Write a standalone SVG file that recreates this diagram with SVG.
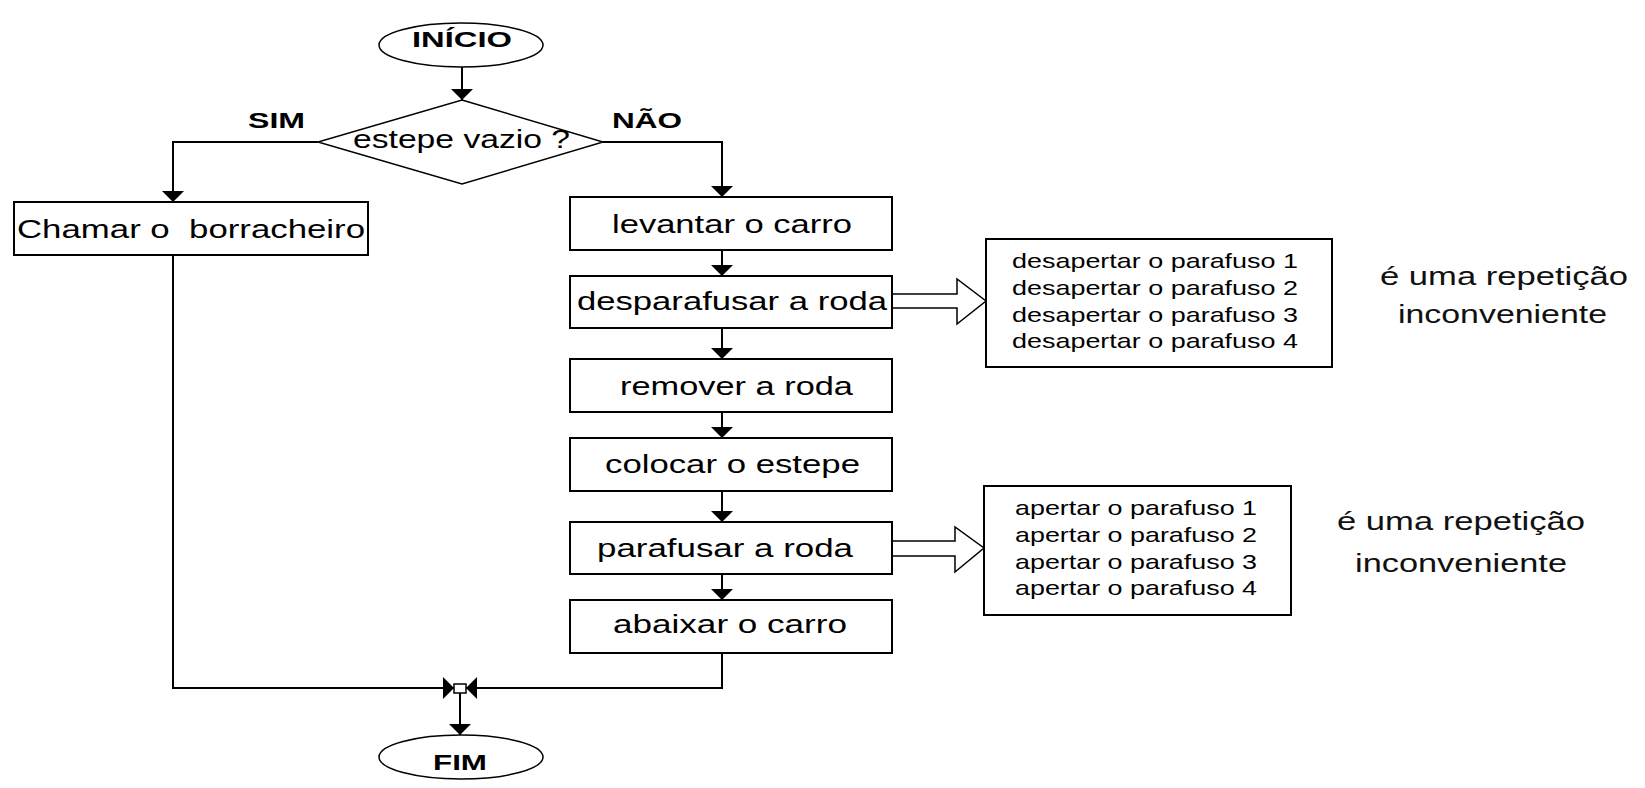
<svg xmlns="http://www.w3.org/2000/svg" width="1645" height="788" viewBox="0 0 1645 788">
<style>
  .box { fill: #ffffff; stroke: #000000; stroke-width: 2; }
  .thin { fill: #ffffff; stroke: #000000; stroke-width: 1.5; }
  .line { fill: none; stroke: #000000; stroke-width: 2; }
  .lbl { font-family: "Liberation Sans", Arial, sans-serif; font-size: 25px; fill: #000000; white-space: pre; }
  .bold { font-family: "Liberation Sans", Arial, sans-serif; font-size: 22px; font-weight: bold; fill: #000000; }
  .small { font-family: "Liberation Sans", Arial, sans-serif; font-size: 21px; fill: #000000; }
  .side { font-family: "Liberation Sans", Arial, sans-serif; font-size: 26px; fill: #111111; }
</style>
<defs>
  <marker id="arr" markerUnits="userSpaceOnUse" viewBox="0 0 11 22" refX="11" refY="11" markerWidth="11" markerHeight="22" orient="auto">
    <path d="M0,0 L11,11 L0,22 z" fill="#000000"/>
  </marker>
</defs>
<rect width="1645" height="788" fill="#ffffff"/>

<g id="connectors">
  <line class="line" x1="462" y1="67" x2="462" y2="100" marker-end="url(#arr)"/>
  <polyline class="line" points="603,142 722,142 722,197" marker-end="url(#arr)"/>
  <polyline class="line" points="318,142 173,142 173,202" marker-end="url(#arr)"/>
  <line class="line" x1="722" y1="250" x2="722" y2="276" marker-end="url(#arr)"/>
  <line class="line" x1="722" y1="328" x2="722" y2="359" marker-end="url(#arr)"/>
  <line class="line" x1="722" y1="412" x2="722" y2="438" marker-end="url(#arr)"/>
  <line class="line" x1="722" y1="491" x2="722" y2="522" marker-end="url(#arr)"/>
  <line class="line" x1="722" y1="574" x2="722" y2="600" marker-end="url(#arr)"/>
  <polyline class="line" points="722,653 722,688 466,688" marker-end="url(#arr)"/>
  <polyline class="line" points="173,255 173,688 454,688" marker-end="url(#arr)"/>
  <line class="line" x1="460" y1="693" x2="460" y2="735" marker-end="url(#arr)"/>
  <rect class="thin" x="454" y="684" width="12" height="9"/>
  <path class="thin" d="M893,294 L957,294 L957,279 L986,301 L957,324 L957,308 L893,308"/>
  <path class="thin" d="M892,541 L955,541 L955,527 L984,548 L955,572 L955,556 L892,556"/>
</g>

<g id="inicio">
  <ellipse class="thin" cx="461" cy="45" rx="82" ry="22"/>
  <text class="bold" x="412" y="47" font-size="21" textLength="100" lengthAdjust="spacingAndGlyphs">INÍCIO</text>
</g>

<g id="decisao">
  <polygon class="thin" points="462,100 603,142 462,184 318,142"/>
  <text class="lbl" x="353" y="148" textLength="217" lengthAdjust="spacingAndGlyphs">estepe vazio ?</text>
</g>

<g id="rotulo-sim">
  <text class="bold" x="248" y="128" textLength="57" lengthAdjust="spacingAndGlyphs">SIM</text>
</g>
<g id="rotulo-nao">
  <text class="bold" x="612" y="128" textLength="70" lengthAdjust="spacingAndGlyphs">NÃO</text>
</g>

<g id="chamar">
  <rect class="box" x="14" y="202" width="354" height="53"/>
  <text class="lbl" x="17" y="238" textLength="348" lengthAdjust="spacingAndGlyphs">Chamar o  borracheiro</text>
</g>

<g id="levantar">
  <rect class="box" x="570" y="197" width="322" height="53"/>
  <text class="lbl" x="612" y="233" textLength="240" lengthAdjust="spacingAndGlyphs">levantar o carro</text>
</g>

<g id="desparafusar">
  <rect class="box" x="570" y="276" width="322" height="52"/>
  <text class="lbl" x="577" y="310" textLength="310" lengthAdjust="spacingAndGlyphs">desparafusar a roda</text>
</g>

<g id="remover">
  <rect class="box" x="570" y="359" width="322" height="53"/>
  <text class="lbl" x="620" y="395" textLength="233" lengthAdjust="spacingAndGlyphs">remover a roda</text>
</g>

<g id="colocar">
  <rect class="box" x="570" y="438" width="322" height="53"/>
  <text class="lbl" x="605" y="473" textLength="255" lengthAdjust="spacingAndGlyphs">colocar o estepe</text>
</g>

<g id="parafusar">
  <rect class="box" x="570" y="522" width="322" height="52"/>
  <text class="lbl" x="597" y="557" textLength="256" lengthAdjust="spacingAndGlyphs">parafusar a roda</text>
</g>

<g id="abaixar">
  <rect class="box" x="570" y="600" width="322" height="53"/>
  <text class="lbl" x="613" y="633" textLength="234" lengthAdjust="spacingAndGlyphs">abaixar o carro</text>
</g>

<g id="fim">
  <ellipse class="thin" cx="461" cy="757" rx="82" ry="22"/>
  <text class="bold" x="433" y="770" font-size="23" textLength="54" lengthAdjust="spacingAndGlyphs">FIM</text>
</g>

<g id="desapertar">
  <rect class="box" x="986" y="239" width="346" height="128"/>
  <text class="small" x="1012" y="268" textLength="286" lengthAdjust="spacingAndGlyphs">desapertar o parafuso 1</text>
  <text class="small" x="1012" y="295" textLength="286" lengthAdjust="spacingAndGlyphs">desapertar o parafuso 2</text>
  <text class="small" x="1012" y="322" textLength="286" lengthAdjust="spacingAndGlyphs">desapertar o parafuso 3</text>
  <text class="small" x="1012" y="348" textLength="286" lengthAdjust="spacingAndGlyphs">desapertar o parafuso 4</text>
</g>

<g id="apertar">
  <rect class="box" x="984" y="486" width="307" height="129"/>
  <text class="small" x="1015" y="515" textLength="242" lengthAdjust="spacingAndGlyphs">apertar o parafuso 1</text>
  <text class="small" x="1015" y="542" textLength="242" lengthAdjust="spacingAndGlyphs">apertar o parafuso 2</text>
  <text class="small" x="1015" y="569" textLength="242" lengthAdjust="spacingAndGlyphs">apertar o parafuso 3</text>
  <text class="small" x="1015" y="595" textLength="242" lengthAdjust="spacingAndGlyphs">apertar o parafuso 4</text>
</g>

<g id="nota1">
  <text class="side" x="1380" y="285" textLength="248" lengthAdjust="spacingAndGlyphs">é uma repetição</text>
  <text class="side" x="1398" y="323" textLength="209" lengthAdjust="spacingAndGlyphs">inconveniente</text>
</g>

<g id="nota2">
  <text class="side" x="1337" y="530" textLength="248" lengthAdjust="spacingAndGlyphs">é uma repetição</text>
  <text class="side" x="1355" y="572" textLength="212" lengthAdjust="spacingAndGlyphs">inconveniente</text>
</g>
</svg>
